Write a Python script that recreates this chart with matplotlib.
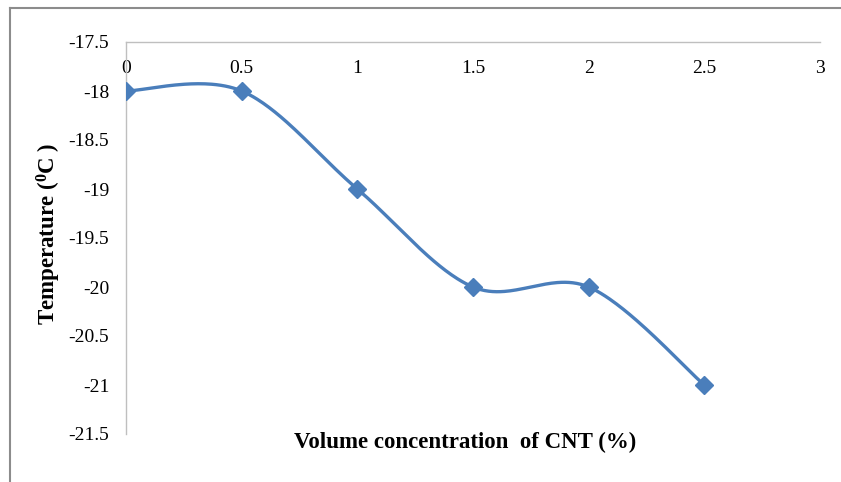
import numpy as np
import matplotlib
matplotlib.use("Agg")
import matplotlib.pyplot as plt
from matplotlib.lines import Line2D

concentration = [0, 0.5, 1, 1.5, 2, 2.5]
temperature = [-18, -18, -19, -20, -20, -21]
x_ticks = [0, 0.5, 1, 1.5, 2, 2.5, 3]
x_tick_labels = ["0", "0.5", "1", "1.5", "2", "2.5", "3"]
y_ticks = [-17.5, -18, -18.5, -19, -19.5, -20, -20.5, -21, -21.5]
y_tick_labels = ["-17.5", "-18", "-18.5", "-19", "-19.5", "-20", "-20.5", "-21", "-21.5"]

color = "#4A7EBB"
W, H = 841, 482

def excel_smooth(xs, ys, n=60):
    xs = np.asarray(xs, float); ys = np.asarray(ys, float)
    P = np.column_stack([xs, ys])
    out = []
    m = len(P)
    for i in range(m - 1):
        p0 = P[i - 1] if i > 0 else P[i]
        p1 = P[i]; p2 = P[i + 1]
        p3 = P[i + 2] if i + 2 < m else P[i + 1]
        c1 = p1 + (p2 - p0) / 6.0
        c2 = p2 - (p3 - p1) / 6.0
        t = np.linspace(0, 1, n)[:, None]
        seg = ((1 - t) ** 3) * p1 + 3 * ((1 - t) ** 2) * t * c1 + 3 * (1 - t) * t ** 2 * c2 + t ** 3 * p2
        out.append(seg if i == 0 else seg[1:])
    out = np.vstack(out)
    return out[:, 0], out[:, 1]

plt.rcParams["font.family"] = ["Liberation Serif", "DejaVu Serif"]

fig = plt.figure(figsize=(W / 100, H / 100), dpi=100)
ax = fig.add_axes([126 / W, 1 - 434 / H, (820 - 126) / W, (434 - 42) / H])

sx, sy = excel_smooth(concentration, temperature)
ax.plot(sx, sy, color=color, lw=2.4, solid_capstyle="round", zorder=3)
ax.plot(concentration, temperature, ls="none", marker="D", ms=9.5, color=color, zorder=4)

ax.set_xlim(0, 3)
ax.set_ylim(-21.5, -17.5)
ax.xaxis.tick_top()
ax.set_xticks(x_ticks)
ax.set_xticklabels(x_tick_labels)
ax.set_yticks(y_ticks)
ax.set_yticklabels(y_tick_labels)
ax.tick_params(axis="x", length=0, pad=-19, labelsize=14, direction="in")
ax.tick_params(axis="y", length=0, pad=12, labelsize=14)
for lbl in ax.get_xticklabels():
    lbl.set_verticalalignment("center")
for s in ["right", "bottom"]:
    ax.spines[s].set_visible(False)
for s in ["left", "top"]:
    ax.spines[s].set_color("#BFBFBF")
    ax.spines[s].set_linewidth(1.0)
ax.patch.set_alpha(0)

# outer frame (left and top edges visible)
fig.add_artist(Line2D([10 / W, 10 / W], [0, 1 - 7.5 / H], color="#8C8C8C", lw=1.5))
fig.add_artist(Line2D([10 / W, 1], [1 - 7.5 / H, 1 - 7.5 / H], color="#8C8C8C", lw=1.5))

fig.text(465 / W, 1 - 442 / H, "Volume concentration  of CNT (%)", ha="center", va="center",
         fontsize=16.5, fontweight="bold")
fig.text(49 / W, 1 - 234 / H, r"Temperature ($\mathregular{^0}$C )", ha="center", va="center",
         rotation=90, fontsize=16.5, fontweight="bold")

fig.savefig("out.png", dpi=100)
